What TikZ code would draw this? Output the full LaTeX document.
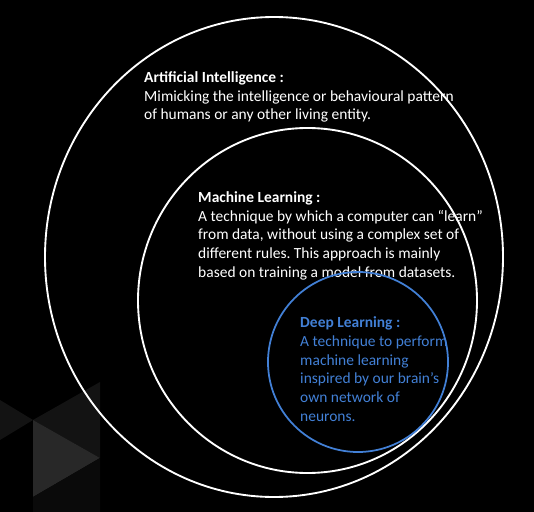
\documentclass[tikz,border=0pt]{standalone}
\usepackage{fontspec}
\setmainfont{Carlito}
\frenchspacing
\definecolor{dlblue}{RGB}{66,128,214}
\definecolor{trilight}{RGB}{40,40,40}
\definecolor{tridark}{RGB}{19,19,19}
\definecolor{trifaint}{RGB}{10,10,10}
\tikzset{
  txt/.style={anchor=base west,align=left,inner sep=0pt,text=white,
    font=\fontsize{13.2}{15.9}\selectfont},
  ring/.style={draw=white,line width=1.6pt},
  dlring/.style={draw=dlblue,line width=1.5pt}
}
\begin{document}
\begin{tikzpicture}[x=0.03cm,y=-0.03cm]
\fill[black] (0,0) rectangle (534,512);
\useasboundingbox (0,0) rectangle (534,512);
% background triangles
\fill[tridark] (0,400) -- (33,420) -- (0,440) -- cycle;
\fill[tridark] (33,420) -- (100,382) -- (100,458) -- cycle;
\fill[trilight] (33,420) -- (100,458) -- (33,497) -- cycle;
\fill[trifaint] (33,497) -- (100,458) -- (100,512) -- (33,512) -- cycle;
% texts (anchored at the baseline of the last line)
\node[txt] (ai) at (144,120) {\textbf{Artificial Intelligence :}\\
Mimicking the intelligence or behavioural pattern\\
of humans or any other living entity.};
\node[txt] (ml) at (198,277) {\textbf{Machine Learning :}\\
A technique by which a computer can “learn”\\
from data, without using a complex set of\\
different rules. This approach is mainly\\
based on training a model from datasets.};
\node[txt,text=dlblue] (dl) at (300,421) {\textbf{Deep Learning :}\\
A technique to perform\\
machine learning\\
inspired by our brain’s\\
own network of\\
neurons.};
% circles
\draw[ring] (274,257) ellipse (229 and 240);
\draw[ring] (307.5,300.5) ellipse (169.5 and 172.5);
\draw[dlring] (358,362) circle (90);
\end{tikzpicture}
\end{document}
